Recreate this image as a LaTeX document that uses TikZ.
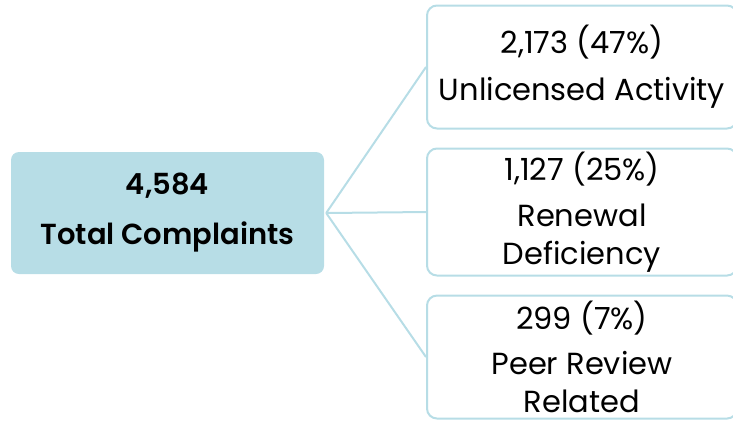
\documentclass[tikz,border=0pt]{standalone}
\usepackage{fontspec}
\setmainfont{Poppins}[BoldFont={Poppins SemiBold}]
\usetikzlibrary{positioning}
\definecolor{boxblue}{RGB}{183,221,230}

\tikzset{
  total/.style={fill=boxblue, rounded corners=8pt, minimum width=313pt, minimum height=122pt,
    align=center, font=\bfseries\fontsize{29}{50}\selectfont},
  part/.style={draw=boxblue, line width=2pt, fill=white, rounded corners=10pt, minimum width=310pt,
    minimum height=123pt, align=center, font=\fontsize{30.5}{38}\selectfont},
  link/.style={draw=boxblue, line width=2pt}
}

\begin{document}
\begin{tikzpicture}[x=1pt,y=-1pt]
    % 画布大小
    \useasboundingbox (0,0) rectangle (733,421);

    % 左侧总数
    \node[total] (total) at (167.5,213) {4,584\\Total Complaints};

    % 右侧分类
    \node[part] (unlic) at (582,67) {2,173 (47\%)\\[9pt]Unlicensed Activity};
    \node[part, below=18pt of unlic] (renew) {1,127 (25\%)\\[8pt]Renewal\\Deficiency};
    \node[part, below=18pt of renew] (peer) {299 (7\%)\\[7pt]Peer Review\\Related};

    % 连线
    \coordinate (hub) at ([xshift=2pt]total.east);
    \draw[link] (hub) -- (unlic.west);
    \draw[link] (hub) -- (renew.west);
    \draw[link] (hub) -- (peer.west);
\end{tikzpicture}
\end{document}
